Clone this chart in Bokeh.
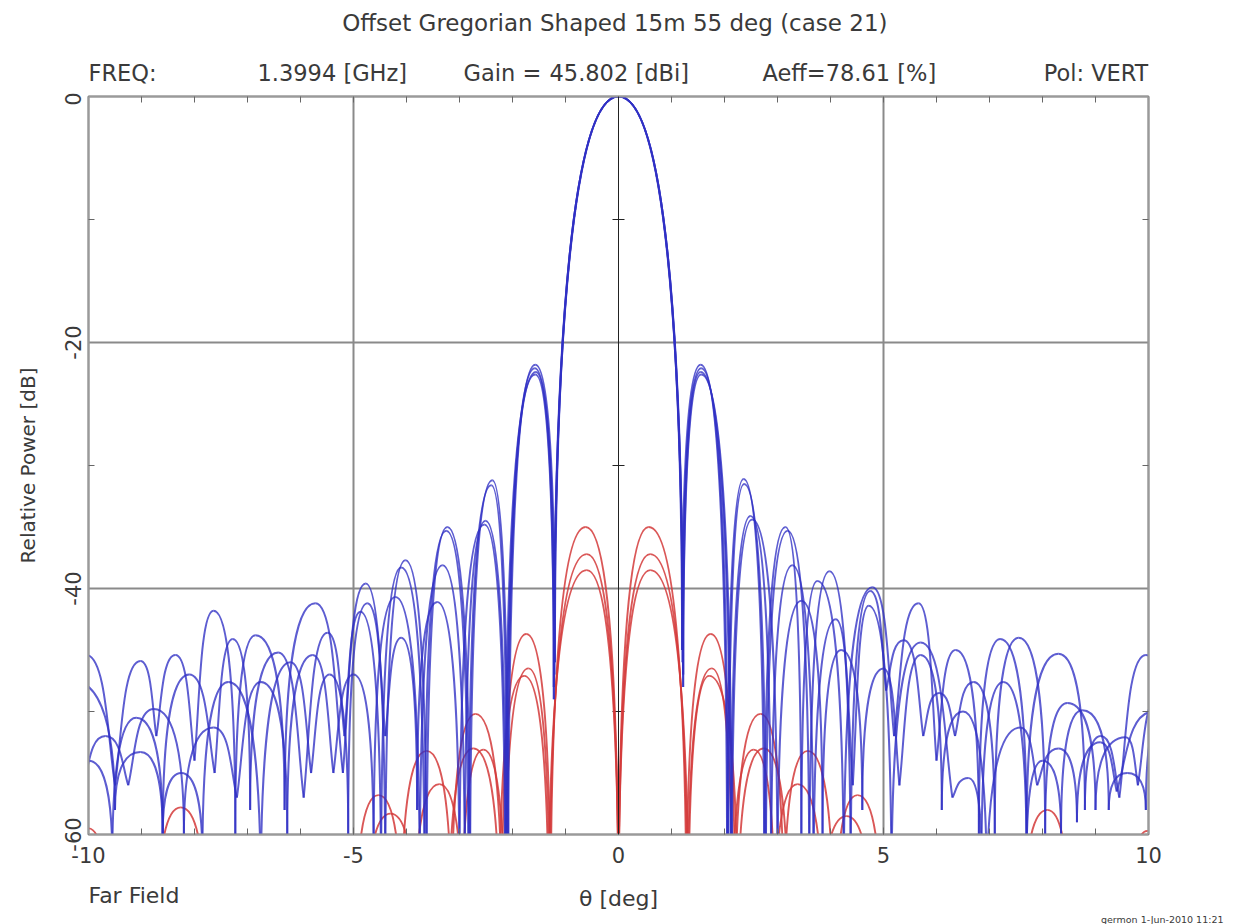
from bokeh.plotting import figure
from bokeh.layouts import column
from bokeh.models import (Range1d, LinearAxis, FixedTicker, Grid, Span, ColumnDataSource, Title)
from bokeh.core.properties import value
from bokeh.embed import file_html
from bokeh.resources import INLINE

# ---------------- data ----------------
# turning points (null, peak, null, ...) of each pattern cut, theta [deg], level [dB]
co_a_theta = [-10.45, -10.05, -9.50, -9.02, -8.72, -8.36, -8.00, -7.64, -7.23, -6.85, -6.30, -5.72,
              -5.20, -4.77, -4.40, -4.02, -3.62, -3.23, -2.80, -2.38, -2.08, -1.57, -1.20, 0.00,
              1.20, 1.55, 2.05, 2.36, 2.75, 3.15, 3.45, 3.75, 4.25, 4.79, 5.20, 5.66, 6.00, 6.36,
              6.80, 7.20, 7.70, 8.30, 8.80, 9.10, 9.45, 9.95, 10.40]
co_a_db = [-65, -45.4, -56, -45.9, -52, -45.4, -54, -41.8, -60, -43.8, -58, -41.2,
           -55, -39.6, -65, -37.7, -65, -35.0, -65, -31.2, -65, -21.8, -46, 0.0,
           -45, -21.8, -65, -31.1, -65, -35.0, -62, -39.4, -65, -39.9, -52, -41.2, -54, -45.0,
           -60, -44.1, -60, -45.3, -58, -52.0, -57, -45.4, -65]

co_b_theta = [-10.60, -10.30, -9.50, -9.02, -8.60, -8.10, -7.62, -7.28, -6.95, -6.42, -5.94, -5.49,
              -5.17, -4.87, -4.48, -4.10, -3.66, -3.25, -2.83, -2.40, -2.10, -1.58, -1.21, 0.00,
              1.21, 1.56, 2.07, 2.37, 2.78, 3.19, 3.60, 3.98, 4.38, 4.75, 5.05, 5.38, 5.75, 6.05,
              6.35, 6.70, 7.10, 7.55, 8.05, 8.47, 9.00, 9.57, 9.80, 10.20, 10.60]
co_b_db = [-65, -47.5, -58, -53.3, -60, -47.0, -55, -44.1, -58, -45.2, -57, -43.6,
           -52, -41.9, -65, -38.3, -65, -35.3, -65, -31.6, -65, -22.1, -47, 0.0,
           -46, -22.1, -65, -31.5, -65, -35.3, -65, -38.6, -65, -40.2, -48.3, -44.2, -52, -48.5,
           -52, -47.6, -60, -44.0, -60, -49.3, -58, -52.1, -56, -48.7, -62]

co_c_theta = [-10.90, -10.50, -10.10, -9.68, -9.25, -8.77, -8.20, -7.64, -7.20, -6.75, -6.25, -5.77,
              -5.38, -5.00, -4.62, -4.21, -3.75, -3.32, -2.90, -2.51, -2.12, -1.56, -1.22, 0.00,
              1.22, 1.55, 2.12, 2.49, 2.88, 3.28, 3.68, 4.10, 4.42, 4.72, 5.15, 5.70, 6.30, 6.60,
              6.85, 7.26, 7.70, 8.00, 8.35, 8.75, 9.25, 9.60, 9.95, 10.30, 10.70]
co_c_db = [-65, -50.0, -56, -52.0, -56, -49.8, -60, -51.3, -57, -47.6, -60, -45.4,
           -55, -47.0, -62, -40.7, -65, -38.1, -65, -34.5, -65, -22.4, -48, 0.0,
           -47, -22.4, -65, -34.1, -65, -38.1, -65, -42.5, -56, -41.4, -65, -44.4, -57, -55.4,
           -62, -47.6, -62, -54.0, -60, -49.9, -58, -55.0, -58, -50.0, -65]

co_d_theta = [-10.40, -10.00, -9.55, -9.10, -8.60, -8.25, -7.85, -7.36, -6.75, -6.19, -5.80, -5.45,
              -5.10, -4.74, -4.40, -4.10, -3.80, -3.42, -3.00, -2.53, -2.14, -1.57, -1.22, 0.00,
              1.22, 1.56, 2.14, 2.52, 3.00, 3.45, 3.85, 4.20, 4.60, 5.00, 5.30, 5.70, 6.10, 6.50,
              6.95, 7.58, 7.90, 8.30, 8.65, 9.09, 9.40, 10.10, 10.50]
co_d_db = [-65, -54.0, -62, -50.5, -60, -55.0, -62, -47.6, -65, -46.0, -55, -47.0,
           -60, -41.2, -52, -44.0, -58, -41.1, -65, -34.8, -65, -22.6, -49, 0.0,
           -48, -22.6, -65, -34.4, -65, -41.0, -60, -45.0, -58, -46.5, -56, -45.4, -58, -50.0,
           -65, -51.3, -56, -53.0, -59, -52.5, -56.5, -50.0, -62]

cx_a_theta = [-10.40, -10.00, -9.65, -9.20, -8.70, -8.26, -7.80, -6.40, -5.10, -4.60, -4.10, -3.62,
              -3.15, -2.70, -2.20, -1.74, -1.28, -0.62, 0.00, 0.57, 1.28, 1.74, 2.20, 2.68,
              3.12, 3.57, 4.05, 4.60, 5.10, 6.40, 7.65, 8.09, 8.50, 9.20, 9.65, 9.98, 10.40]
cx_a_db = [-68, -59.5, -68, -63, -68, -57.8, -68, -64, -68, -62, -68, -53.2,
           -68, -50.2, -68, -43.7, -68, -35.0, -68, -35.0, -68, -43.7, -68, -50.2,
           -68, -53.2, -68, -62, -68, -64, -68, -58.0, -68, -63, -68, -59.7, -68]

cx_b_theta = [-6.00, -5.40, -4.75, -4.30, -3.85, -3.38, -2.95, -2.55, -2.15, -1.70, -1.30, -0.60,
              0.00, 0.60, 1.30, 1.76, 2.15, 2.55, 2.95, 3.38, 3.85, 4.30, 4.75, 5.40, 6.00]
cx_b_db = [-70, -64, -68, -58.3, -68, -55.9, -68, -53.1, -68, -46.5, -68, -37.2,
           -68, -37.2, -68, -46.5, -68, -53.1, -68, -55.9, -68, -58.5, -68, -64, -70]

cx_c_theta = [-4.95, -4.53, -4.10, -3.70, -3.20, -2.74, -2.25, -1.78, -1.32, -0.60, 0.00,
              0.60, 1.32, 1.71, 2.25, 2.74, 3.20, 3.70, 4.10, 4.51, 4.95]
cx_c_db = [-68, -56.8, -68, -61, -68, -53.0, -68, -47.1, -68, -38.5, -68,
           -38.5, -68, -47.1, -68, -53.0, -68, -61, -68, -56.8, -68]

x_ticks = [-10, -5, 0, 5, 10]
x_tick_labels = ["-10", "-5", "0", "5", "10"]
x_minor = list(range(-10, 11))
y_ticks = [0, -20, -40, -60]
y_tick_labels = ["0", "-20", "-40", "-60"]
y_minor = [-10, -30, -50]

title_text = "Offset Gregorian Shaped 15m 55 deg  (case 21)"
header_texts = ["FREQ:", "1.3994 [GHz]", "Gain =", "45.802 [dBi]", "Aeff=78.61 [%]"]
pol_text = "Pol: VERT"
y_label = "Relative Power [dB]"
x_label = "\u03b8 [deg]"
far_text = "Far Field"
stamp_text = "germon  1-Jun-2010 11:21"

# ---------------- layout / style ----------------
W = 1240
HEAD_H = 92
FOOT_H = 50
MAIN_H = 924 - HEAD_H - FOOT_H
BL, BR = 88, 92                      # frame runs from x=88 to x=1148 on the page
FOOT_B = 11
FONT = "DejaVu Sans"
TXT = "#3a3a3a"
header_px = [88, 257, 463, 549, 762]


def lobes(theta, db):
    """Each lobe flank is a cubic Bezier from a peak (flat tangent) to a null."""
    d = dict(x0=[], y0=[], x1=[], y1=[], cx0=[], cy0=[], cx1=[], cy1=[])
    for i in range(len(theta) - 1):
        xa, ya, xb, yb = theta[i], db[i], theta[i + 1], db[i + 1]
        if ya >= yb:
            xp, yp, xn, yn = xa, ya, xb, yb
        else:
            xp, yp, xn, yn = xb, yb, xa, ya
        dx = xn - xp
        h = yp - yn
        d["x0"].append(xp); d["y0"].append(yp)
        d["x1"].append(xn); d["y1"].append(yn)
        d["cx0"].append(xp + 0.7 * dx); d["cy0"].append(yp)
        if yn < -57 or 1.19 < abs(xn) < 1.25:
            d["cx1"].append(xn); d["cy1"].append(yn + 0.6 * h)
        else:
            d["cx1"].append(xn - 0.25 * dx); d["cy1"].append(yn + 0.35 * h)
    return d


def text_strip(height, bottom=0):
    f = figure(width=W, height=height, x_range=Range1d(BL, W - BR),
               y_range=Range1d(height - bottom, 0),
               output_backend="svg", toolbar_location=None, x_axis_type=None,
               y_axis_type=None, min_border_left=BL, min_border_right=BR,
               min_border_top=0, min_border_bottom=bottom)
    f.outline_line_color = None
    f.background_fill_color = "white"
    f.border_fill_color = "white"
    return f


def put(f, xs, ys, texts, size="22px", align="left"):
    f.text(x=xs, y=ys, text=texts, text_font=value(FONT), text_font_size=size,
           text_color=TXT, text_align=align, text_baseline="middle")


head = text_strip(HEAD_H)
put(head, [618], [22], [title_text], size="23px", align="center")
put(head, header_px, [72] * len(header_texts), header_texts, size="22.5px")
put(head, [1148], [72], [pol_text], size="22.5px", align="right")

foot = text_strip(FOOT_H, bottom=FOOT_B)
put(foot, [88], [22], [far_text])
put(foot, [618], [25], [x_label], align="center")
foot.add_layout(Title(text=stamp_text, align="right", offset=-78, standoff=0,
                      text_font=FONT, text_font_size="9.5px", text_font_style="normal",
                      text_color=TXT), "below")

p = figure(width=W, height=MAIN_H, x_range=Range1d(-10, 10), y_range=Range1d(-60, 0),
           output_backend="svg", toolbar_location=None, x_axis_type=None, y_axis_type=None,
           min_border_left=BL, min_border_right=BR, min_border_top=4, min_border_bottom=40)
p.outline_line_color = "#9a9a9a"
p.outline_line_width = 2
p.background_fill_color = "white"
p.border_fill_color = "white"

p.add_layout(Grid(dimension=0, ticker=FixedTicker(ticks=[-5, 5]), grid_line_color="#8a8a8a",
                  grid_line_width=2))
p.add_layout(Grid(dimension=1, ticker=FixedTicker(ticks=[-20, -40]), grid_line_color="#8a8a8a",
                  grid_line_width=2))
p.add_layout(Span(location=0, dimension="height", line_color="#222222", line_width=1))
p.scatter(x=[0] * len(y_minor), y=y_minor, marker="dash", size=12,
          line_color="#222222", line_width=1)

for th, dbv in [(cx_a_theta, cx_a_db), (cx_b_theta, cx_b_db), (cx_c_theta, cx_c_db)]:
    p.bezier(source=ColumnDataSource(lobes(th, dbv)), x0="x0", y0="y0", x1="x1", y1="y1",
             cx0="cx0", cy0="cy0", cx1="cx1", cy1="cy1",
             line_color="#d43a3a", line_width=1.8, line_alpha=0.85)

for th, dbv in [(co_a_theta, co_a_db), (co_b_theta, co_b_db), (co_c_theta, co_c_db),
                (co_d_theta, co_d_db)]:
    p.bezier(source=ColumnDataSource(lobes(th, dbv)), x0="x0", y0="y0", x1="x1", y1="y1",
             cx0="cx0", cy0="cy0", cx1="cx1", cy1="cy1",
             line_color="#3030c4", line_width=2.0, line_alpha=0.78)

xax = LinearAxis(ticker=FixedTicker(ticks=x_ticks, minor_ticks=x_minor),
                 major_label_overrides={t: l for t, l in zip(x_ticks, x_tick_labels)},
                 major_tick_in=7, major_tick_out=0, minor_tick_in=6, minor_tick_out=0,
                 major_tick_line_color="#666", minor_tick_line_color="#666",
                 axis_line_color="#9a9a9a", axis_line_width=2,
                 major_label_text_font=FONT, major_label_text_font_size="21px",
                 major_label_text_color=TXT, major_label_standoff=12)
p.add_layout(xax, "below")
tax = LinearAxis(ticker=FixedTicker(ticks=[], minor_ticks=x_minor),
                 minor_tick_in=6, minor_tick_out=0, minor_tick_line_color="#666",
                 axis_line_color="#9a9a9a", axis_line_width=2)
p.add_layout(tax, "above")
yax = LinearAxis(ticker=FixedTicker(ticks=y_ticks, minor_ticks=y_minor),
                 major_label_overrides={t: l for t, l in zip(y_ticks, y_tick_labels)},
                 major_tick_in=0, major_tick_out=0, minor_tick_in=6, minor_tick_out=0,
                 minor_tick_line_color="#666",
                 axis_line_color="#9a9a9a", axis_line_width=2,
                 major_label_orientation="vertical",
                 major_label_text_font=FONT, major_label_text_font_size="21px",
                 major_label_text_color=TXT, major_label_standoff=8,
                 axis_label=y_label, axis_label_text_font=FONT,
                 axis_label_text_font_size="20px", axis_label_text_font_style="normal",
                 axis_label_text_color=TXT, axis_label_standoff=22)
p.add_layout(yax, "left")
rax = LinearAxis(ticker=FixedTicker(ticks=[], minor_ticks=y_minor),
                 minor_tick_in=6, minor_tick_out=0, minor_tick_line_color="#666",
                 axis_line_color="#9a9a9a", axis_line_width=2)
p.add_layout(rax, "right")

page = column(head, p, foot, spacing=0)
open("out.html", "w").write(file_html(page, INLINE))
